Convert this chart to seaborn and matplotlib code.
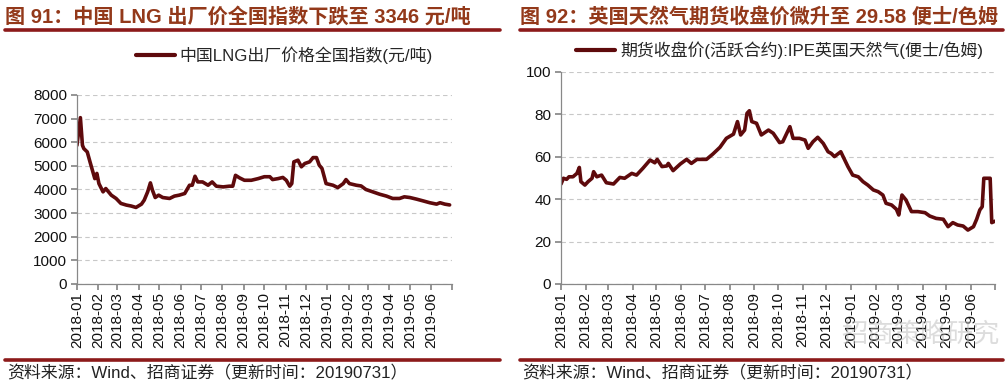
import numpy as np
import pandas as pd
import seaborn as sns
import matplotlib.pyplot as plt
from matplotlib.lines import Line2D

# 中国LNG出厂价格全国指数(元/吨)
lng_dates = ["2018-01-01", "2018-01-06", "2018-01-09", "2018-01-11", "2018-01-16", "2018-01-20",
             "2018-01-27", "2018-01-30", "2018-02-02", "2018-02-08", "2018-02-12", "2018-02-20",
             "2018-02-27", "2018-03-06", "2018-03-14", "2018-03-21", "2018-03-28", "2018-04-05",
             "2018-04-09", "2018-04-14", "2018-04-18", "2018-04-21", "2018-04-25", "2018-04-30",
             "2018-05-06", "2018-05-16", "2018-05-23", "2018-05-30", "2018-06-07", "2018-06-14",
             "2018-06-18", "2018-06-22", "2018-06-26", "2018-07-03", "2018-07-11", "2018-07-17",
             "2018-07-23", "2018-08-02", "2018-08-11", "2018-08-16", "2018-08-20", "2018-08-26",
             "2018-09-02", "2018-09-12", "2018-09-22", "2018-10-01", "2018-10-09", "2018-10-13",
             "2018-10-21", "2018-10-28", "2018-11-02", "2018-11-07", "2018-11-10", "2018-11-13",
             "2018-11-19", "2018-11-24", "2018-11-29", "2018-12-06", "2018-12-11", "2018-12-16",
             "2018-12-20", "2018-12-24", "2018-12-30", "2019-01-09", "2019-01-16", "2019-01-24",
             "2019-01-28", "2019-02-02", "2019-02-12", "2019-02-19", "2019-02-26", "2019-03-08",
             "2019-03-18", "2019-03-28", "2019-04-06", "2019-04-16", "2019-04-23", "2019-05-01",
             "2019-05-11", "2019-05-20", "2019-05-30", "2019-06-09", "2019-06-14", "2019-06-21",
             "2019-06-28"]
lng_values = [5870, 7040, 5870, 5730, 5590, 5170,
              4460, 4680, 4250, 3900, 4040, 3760,
              3620, 3410, 3340, 3300, 3240, 3380,
              3550, 3900, 4280, 3970, 3660, 3760,
              3660, 3620, 3720, 3760, 3830, 4180,
              4180, 4560, 4320, 4320, 4180, 4320,
              4140, 4110, 4140, 4140, 4600, 4490,
              4390, 4390, 4460, 4540, 4540, 4420,
              4460, 4510, 4390, 4140, 4250, 5170,
              5240, 4960, 5100, 5170, 5350, 5350,
              5030, 4890, 4250, 4180, 4080, 4250,
              4420, 4250, 4180, 4150, 4000, 3900,
              3800, 3720, 3620, 3620, 3690, 3660,
              3590, 3520, 3440, 3380, 3440, 3380,
              3346]

# 期货收盘价(活跃合约):IPE英国天然气(便士/色姆)
ipe_dates = ["2018-01-01", "2018-01-04", "2018-01-08", "2018-01-11", "2018-01-16", "2018-01-21",
             "2018-01-24", "2018-01-26", "2018-01-31", "2018-02-04", "2018-02-09", "2018-02-11",
             "2018-02-15", "2018-02-21", "2018-02-27", "2018-03-08", "2018-03-16", "2018-03-22",
             "2018-03-31", "2018-04-06", "2018-04-14", "2018-04-23", "2018-04-29", "2018-05-02",
             "2018-05-08", "2018-05-14", "2018-05-16", "2018-05-22", "2018-05-31", "2018-06-08",
             "2018-06-14", "2018-06-21", "2018-07-03", "2018-07-11", "2018-07-20", "2018-07-28",
             "2018-08-06", "2018-08-11", "2018-08-15", "2018-08-20", "2018-08-23", "2018-08-26",
             "2018-08-29", "2018-09-04", "2018-09-10", "2018-09-19", "2018-09-25", "2018-10-03",
             "2018-10-07", "2018-10-16", "2018-10-20", "2018-10-28", "2018-11-04", "2018-11-08",
             "2018-11-14", "2018-11-20", "2018-11-27", "2018-12-03", "2018-12-07", "2018-12-11",
             "2018-12-19", "2018-12-24", "2018-12-28", "2019-01-03", "2019-01-10", "2019-01-16",
             "2019-01-22", "2019-01-29", "2019-02-04", "2019-02-10", "2019-02-14", "2019-02-21",
             "2019-02-27", "2019-03-02", "2019-03-06", "2019-03-11", "2019-03-18", "2019-03-26",
             "2019-04-04", "2019-04-10", "2019-04-18", "2019-04-27", "2019-05-03", "2019-05-09",
             "2019-05-15", "2019-05-22", "2019-05-28", "2019-06-04", "2019-06-08", "2019-06-12",
             "2019-06-15", "2019-06-17", "2019-06-23", "2019-06-25", "2019-06-27", "2019-07-01"]
ipe_values = [47.1, 49.8, 49.3, 50.5, 50.5, 52.1,
              54.9, 48.2, 46.6, 48.2, 49.8, 52.9,
              50.5, 51.3, 47.7, 47.1, 50.2, 49.8,
              52.1, 51.3, 54.5, 58.4, 57.1, 58.7,
              55.3, 55.6, 56.8, 53.4, 56.5, 58.7,
              56.8, 58.7, 58.7, 61.2, 64.4, 68.6,
              70.6, 76.5, 70.2, 72.5, 80.4, 81.6,
              76.5, 75.7, 70.2, 72.5, 71.0, 66.6,
              67.0, 74.1, 68.6, 68.6, 67.8, 63.9,
              67.0, 69.1, 66.2, 62.3, 61.5, 60.0,
              62.3, 58.4, 55.3, 51.3, 50.5, 48.2,
              46.6, 44.3, 43.5, 41.9, 38.0, 37.2,
              35.2, 32.5, 41.9, 39.6, 34.1, 34.1,
              33.6, 32.0, 30.9, 30.5, 27.0, 28.9,
              27.8, 27.3, 25.4, 27.0, 30.5, 34.9,
              36.4, 49.8, 49.8, 49.8, 28.9, 29.58]

month_ticks = pd.date_range("2018-01-01", "2019-07-01", freq="MS")
month_labels = [d.strftime("%Y-%m") for d in month_ticks[:-1]] + [""]

sns.set_theme(style="white")
plt.rcParams['font.family'] = ['Liberation Sans', 'Noto Sans CJK SC', 'DejaVu Sans']
plt.rcParams['axes.unicode_minus'] = False

line_color = "#5e0a0c"
rule_color = "#8c1a1a"
title_color = "#93391a"

fig = plt.figure(figsize=(10.06, 3.83), dpi=100)

panels = [
    dict(rect=[0.0765, 0.2585, 0.3725, 0.4935], dates=lng_dates, values=lng_values,
         ylim=(0, 8000), yticks=np.arange(0, 8001, 1000),
         label="中国LNG出厂价格全国指数(元/吨)",
         title="图 91：中国 LNG 出厂价全国指数下跌至 3346 元/吨",
         x0=0.005, x1=0.497, leg=(0.128, 0.857)),
    dict(rect=[0.5577, 0.2585, 0.4313, 0.5543], dates=ipe_dates, values=ipe_values,
         ylim=(0, 100), yticks=np.arange(0, 101, 20),
         label="期货收盘价(活跃合约):IPE英国天然气(便士/色姆)",
         title="图 92：英国天然气期货收盘价微升至 29.58 便士/色姆",
         x0=0.517, x1=0.997, leg=(0.566, 0.868)),
]

for p in panels:
    ax = fig.add_axes(p["rect"])
    df = pd.DataFrame({"date": pd.to_datetime(p["dates"]), "value": p["values"]})
    sns.lineplot(data=df, x="date", y="value", ax=ax, color=line_color, linewidth=2.6)
    ax.set_xlim(month_ticks[0], month_ticks[-1])
    ax.set_ylim(*p["ylim"])
    ax.set_yticks(p["yticks"])
    ax.set_xticks(month_ticks)
    ax.set_xticklabels(month_labels, rotation=90, fontsize=11)
    ax.tick_params(axis="y", labelsize=11, length=4, color="#888888", direction="out", left=True, pad=3)
    ax.tick_params(axis="x", length=4, color="#888888", direction="out", bottom=True, pad=2)
    ax.set_xlabel("")
    ax.set_ylabel("")
    ax.yaxis.grid(True, linestyle=(0, (4, 3)), color="#c8c8c8", linewidth=0.8)
    ax.xaxis.grid(False)
    for s in ["top", "right"]:
        ax.spines[s].set_visible(False)
    for s in ["left", "bottom"]:
        ax.spines[s].set_color("#888888")
        ax.spines[s].set_linewidth(0.9)
    for lab in ax.get_xticklabels() + ax.get_yticklabels():
        lab.set_color("#111111")

    handle = Line2D([0], [0], color=line_color, linewidth=3)
    fig.legend([handle], [p["label"]], loc="center left", bbox_to_anchor=p["leg"],
               frameon=False, fontsize=12.2, handlelength=2.3, handletextpad=0.3,
               borderaxespad=0, prop=None)

    fig.text(p["x0"], 0.955, p["title"], fontsize=14.5, fontweight="bold",
             color=title_color, ha="left", va="center")
    fig.add_artist(Line2D([p["x0"], p["x1"]], [0.921, 0.921], color=rule_color,
                          linewidth=2.6, transform=fig.transFigure))
    fig.add_artist(Line2D([p["x0"], p["x1"]], [0.059, 0.059], color=rule_color,
                          linewidth=2.6, transform=fig.transFigure))
    fig.text(p["x0"] + 0.002, 0.026, "资料来源：Wind、招商证券（更新时间：20190731）",
             fontsize=12.2, color="#222222", ha="left", va="center")

fig.text(0.915, 0.125, "招商策略研究", fontsize=19, color="#bbbbbb", alpha=0.5,
         ha="center", va="center")

fig.savefig("out.png", dpi=100)
